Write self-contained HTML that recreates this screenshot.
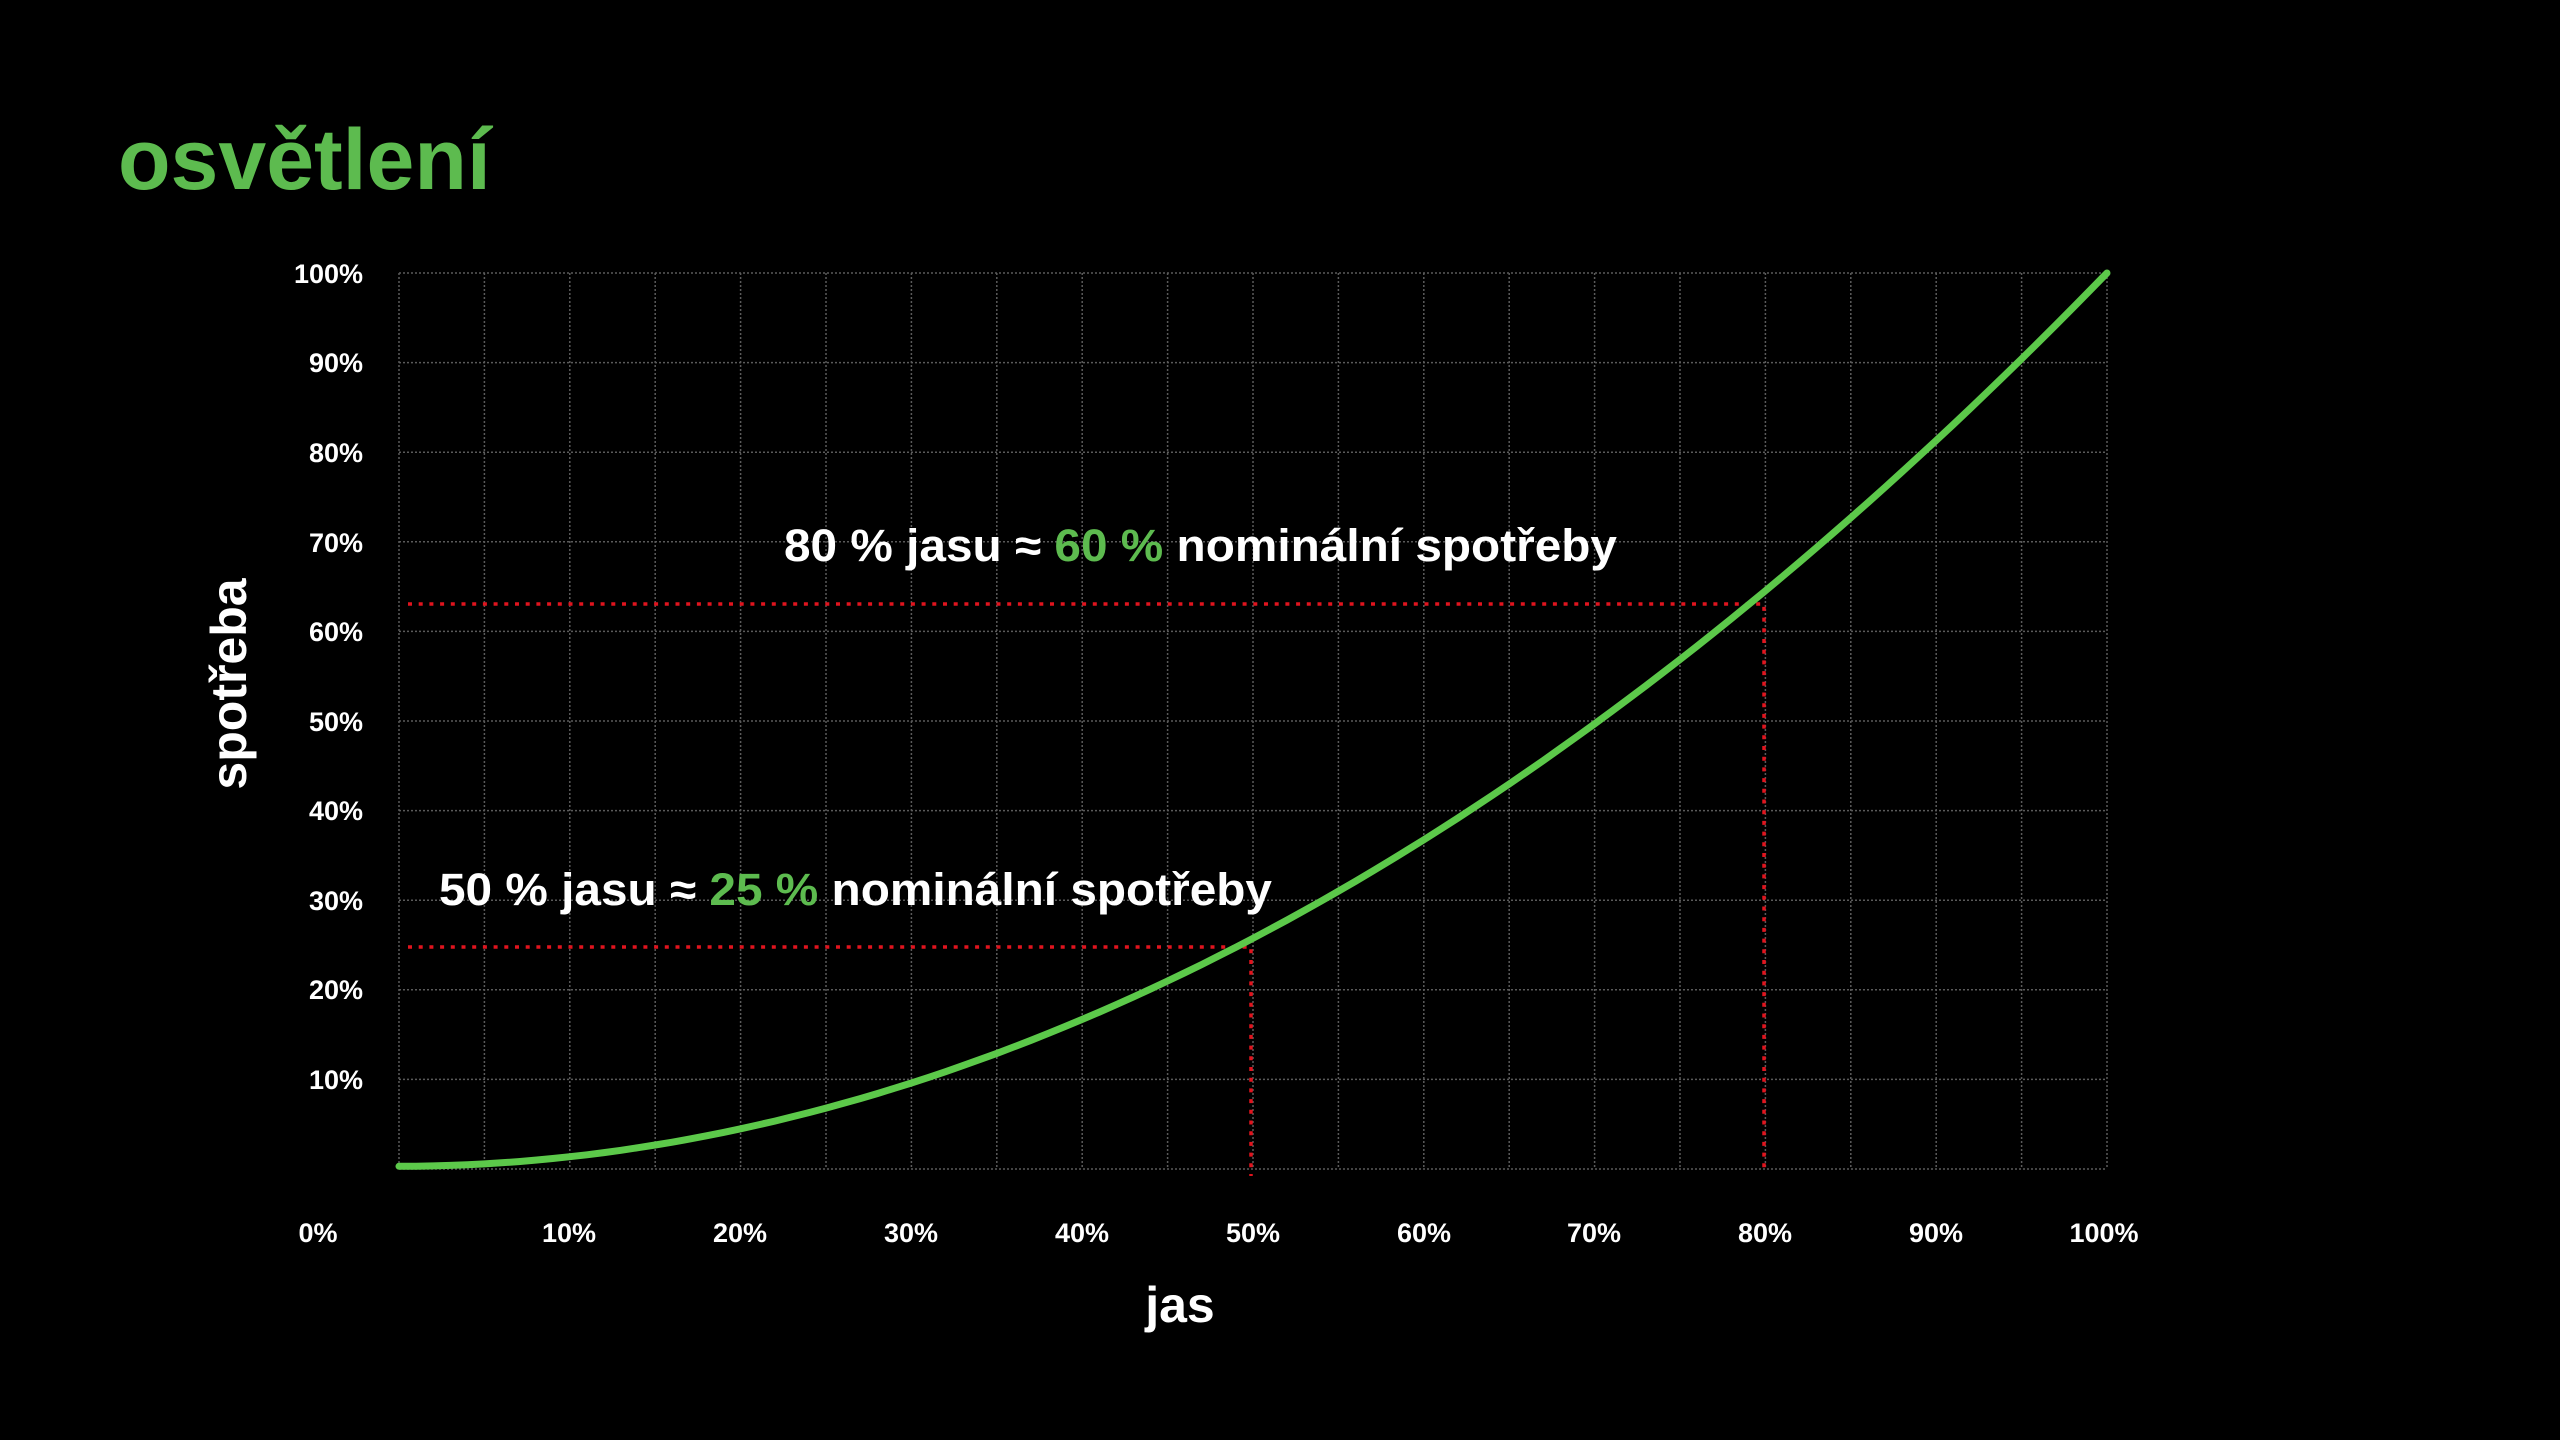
<!DOCTYPE html>
<html><head><meta charset="utf-8"><style>
html,body{margin:0;padding:0;background:#000;}
svg{display:block;}
text{font-family:"Liberation Sans",sans-serif;font-weight:bold;}
</style></head><body>
<svg width="2560" height="1440" viewBox="0 0 2560 1440" xmlns="http://www.w3.org/2000/svg">
<rect width="2560" height="1440" fill="#000"/>
<text x="118" y="189" font-size="86" fill="#5dbb4f">osvětlení</text>
<g stroke="#5a5a5a" stroke-width="1.5" stroke-dasharray="2 2" fill="none">
<path d="M399 273V1169M484.4 273V1169M569.8 273V1169M655.2 273V1169M740.6 273V1169M826 273V1169M911.4 273V1169M996.8 273V1169M1082.2 273V1169M1167.6 273V1169M1253 273V1169M1338.4 273V1169M1423.8 273V1169M1509.2 273V1169M1594.6 273V1169M1680 273V1169M1765.4 273V1169M1850.8 273V1169M1936.2 273V1169M2021.6 273V1169M2107 273V1169"/>
<path d="M399 273H2107M399 362.6H2107M399 452.2H2107M399 541.8H2107M399 631.4H2107M399 721H2107M399 810.6H2107M399 900.2H2107M399 989.8H2107M399 1079.4H2107M399 1169H2107"/>
</g>
<g fill="#fff" font-size="27" text-anchor="end">
<text x="363" y="283">100%</text><text x="363" y="372">90%</text><text x="363" y="462">80%</text><text x="363" y="552">70%</text><text x="363" y="641">60%</text><text x="363" y="731">50%</text><text x="363" y="820">40%</text><text x="363" y="910">30%</text><text x="363" y="999">20%</text><text x="363" y="1089">10%</text>
</g>
<g fill="#fff" font-size="27" text-anchor="middle">
<text x="318" y="1242">0%</text><text x="569" y="1242">10%</text><text x="740" y="1242">20%</text><text x="911" y="1242">30%</text><text x="1082" y="1242">40%</text><text x="1253" y="1242">50%</text><text x="1424" y="1242">60%</text><text x="1594" y="1242">70%</text><text x="1765" y="1242">80%</text><text x="1936" y="1242">90%</text><text x="2104" y="1242">100%</text>
</g>
<text x="1180" y="1322" font-size="50" fill="#fff" text-anchor="middle">jas</text>
<text transform="translate(246 684) rotate(-90)" font-size="50" fill="#fff" text-anchor="middle">spotřeba</text>
<g stroke="#e0141e" stroke-width="3.5" stroke-dasharray="4 6.7" fill="none">
<path d="M408 604H1764V1172"/>
<path d="M408 947H1251V1176"/>
</g>
<path id="c" fill="none" stroke="#5cc94a" stroke-width="7" stroke-linejoin="round" stroke-linecap="round" d="M399.0 1168.0 L441.7 1167.0 L484.4 1165.7 L527.1 1163.1 L569.8 1159.3 L612.5 1154.2 L655.2 1147.9 L697.9 1140.3 L740.6 1131.4 L783.3 1121.3 L826.0 1109.9 L868.7 1097.3 L911.4 1083.4 L954.1 1068.3 L996.8 1051.9 L1039.5 1034.3 L1082.2 1015.4 L1124.9 995.3 L1167.6 973.9 L1210.3 951.3 L1253.0 927.4 L1295.7 902.3 L1338.4 875.9 L1381.1 848.3 L1423.8 819.4 L1466.5 789.3 L1509.2 757.9 L1551.9 725.3 L1594.6 691.4 L1637.3 656.3 L1680.0 619.9 L1722.7 582.3 L1765.4 543.4 L1808.1 503.3 L1850.8 461.9 L1893.5 419.3 L1936.2 375.4 L1978.9 330.3 L2021.6 283.9 L2064.3 236.3 L2107.0 274.0"/>
<text x="784" y="561" font-size="45" fill="#fff" textLength="833" lengthAdjust="spacingAndGlyphs">80 % jasu ≈ <tspan fill="#5dbb4f">60 %</tspan> nominální spotřeby</text>
<text x="439" y="905" font-size="45" fill="#fff" textLength="833" lengthAdjust="spacingAndGlyphs">50 % jasu ≈ <tspan fill="#5dbb4f">25 %</tspan> nominální spotřeby</text>
</svg>
<script>
var p=document.getElementById('c');var d='';
for(var i=0;i<=100;i++){var x=i/100;var y=0.003+0.997*Math.pow(x,1.97);d+=(i?'L':'M')+(399+1708*x).toFixed(1)+' '+(1169-896*y).toFixed(1)+' ';}
p.setAttribute('d',d);
</script>
</body></html>
